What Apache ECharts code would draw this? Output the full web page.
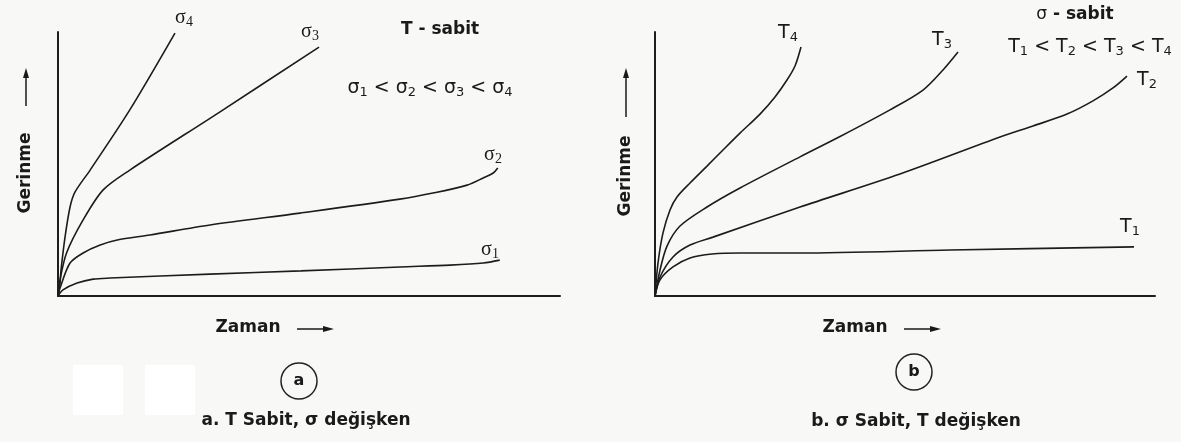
<!DOCTYPE html>
<html>
<head>
<meta charset="utf-8">
<script src="https://cdn.jsdelivr.net/npm/echarts@6/dist/echarts.min.js"></script>
<style>
html,body{margin:0;padding:0;background:#f8f8f6;}
#c{width:1181px;height:442px;}
</style>
</head>
<body>
<div id="c"></div>
<script>
// Panel a: T constant, sigma varies  (x: time 0-100, y: strain 0-100)
const sigma1 = [[0,0],[1.0,2.3],[3.8,4.9],[7.0,6.4],[10.4,6.8],[30.3,8.3],[48.4,9.5],[68.1,11.0],[78.1,11.7],[84.7,12.5],[88.0,13.6]];
const sigma2 = [[0,0],[0.4,3.0],[2.4,12.5],[5.0,16.3],[8.4,19.3],[11.8,21.2],[18.3,23.1],[30.3,26.9],[48.2,31.4],[68.1,36.7],[74.7,39.0],[81.5,42.0],[84.7,44.7],[86.7,46.6],[87.6,48.5]];
const sigma3 = [[0,0],[0.4,6.1],[1.7,16.3],[5.0,28.8],[9.0,40.2],[14.3,47.7],[31.9,69.3],[52.0,94.3]];
const sigma4 = [[0,0],[0.4,4.9],[0.6,9.8],[1.4,22.3],[2.4,33.7],[3.4,39.4],[6.4,47.7],[14.3,70.5],[23.3,99.6]];
// Panel b: sigma constant, T varies
const temp1 = [[0,0],[1.0,6.1],[3.6,11.0],[7.0,14.4],[11.4,15.9],[17.0,16.3],[29.0,16.3],[59.0,17.4],[95.8,18.6]];
const temp2 = [[0,0],[1.0,7.2],[3.6,14.8],[7.0,19.3],[11.6,22.3],[29.0,33.7],[49.0,46.2],[69.0,60.2],[75.6,64.4],[82.4,68.9],[87.6,73.9],[91.6,78.8],[94.4,83.3]];
const temp3 = [[0,0],[1.0,9.8],[2.4,18.9],[5.0,26.5],[10.4,33.7],[17.0,40.9],[29.0,52.7],[37.0,60.4],[47.0,70.5],[53.6,78.0],[57.6,85.6],[60.6,92.4]];
const temp4 = [[0,0],[0.6,12.5],[1.6,23.9],[3.0,32.6],[4.4,37.5],[7.0,42.8],[10.4,49.2],[13.6,55.3],[17.0,61.7],[21.0,68.9],[24.0,75.4],[26.4,81.8],[28.0,87.1],[29.2,94.3]];

const leftSeries = [sigma1, sigma2, sigma3, sigma4];
const rightSeries = [temp1, temp2, temp3, temp4];

const chart = echarts.init(document.getElementById('c'), null, {renderer:'canvas'});

function axis(idx){
  return {type:'value', gridIndex:idx, min:0, max:100,
    axisLine:{show:true, onZero:false, lineStyle:{color:'#1e1e1e', width:2}},
    axisTick:{show:false}, axisLabel:{show:false}, splitLine:{show:false}};
}
function lineSeries(data, idx){
  return {type:'line', xAxisIndex:idx, yAxisIndex:idx, data:data, showSymbol:false,
    smooth:0.3, silent:true,
    lineStyle:{color:'#1c1c1c', width:1.6}};
}
const series = [];
leftSeries.forEach(d=>series.push(lineSeries(d,0)));
rightSeries.forEach(d=>series.push(lineSeries(d,1)));

const SANS = '"DejaVu Sans", Verdana, sans-serif';
const SERIF = '"Liberation Serif", "DejaVu Serif", serif';
const TXT = '#1a1a1a';

function txt(x,y,text,opt){
  opt = opt||{};
  return {type:'text', x:x, y:y, rotation:opt.rotation||0, silent:true,
    style:Object.assign({text:text, fill:TXT, font:opt.font||('bold 17px '+SANS),
      align:'center', verticalAlign:'middle'}, opt.style||{})};
}
function subLabel(x,y,base,sub,family,size){
  return {type:'text', x:x, y:y, silent:true,
    style:{text:'{b|'+base+'}{s|'+sub+'}', align:'center', verticalAlign:'middle', fill:TXT,
      rich:{b:{fontFamily:family, fontSize:size, fill:TXT},
            s:{fontFamily:family, fontSize:Math.round(size*0.68), fill:TXT, padding:[9,0,0,0]}}}};
}
function relation(x,y,base,family,size){
  let t='';
  for(let i=1;i<=4;i++){
    t += '{b|'+base+'}{s|'+i+'}';
    if(i<4) t += '{b| < }';
  }
  const rich = {b:{fontFamily:family, fontSize:size, fill:TXT},
                s:{fontFamily:family, fontSize:Math.round(size*0.68), fill:TXT, padding:[9,0,0,0]}};
  return {type:'text', x:x, y:y, silent:true,
    style:{text:t, align:'center', verticalAlign:'middle', fill:TXT, rich:rich}};
}
function arrowUp(x, y1, y2){ // shaft from y1 (bottom) to tip y2
  return [
    {type:'line', silent:true, shape:{x1:x,y1:y1,x2:x,y2:y2+8}, style:{stroke:TXT, lineWidth:1.5}},
    {type:'polygon', silent:true, shape:{points:[[x,y2],[x-3,y2+10],[x+3,y2+10]]}, style:{fill:TXT}}
  ];
}
function arrowRight(y, x1, x2){
  return [
    {type:'line', silent:true, shape:{x1:x1,y1:y,x2:x2-8,y2:y}, style:{stroke:TXT, lineWidth:1.5}},
    {type:'polygon', silent:true, shape:{points:[[x2,y],[x2-11,y-3],[x2-11,y+3]]}, style:{fill:TXT}}
  ];
}

const graphic = [
  {type:'rect', silent:true, z:-10, shape:{x:73,y:365,width:50,height:50}, style:{fill:'#ffffff'}},
  {type:'rect', silent:true, z:-10, shape:{x:145,y:365,width:50,height:50}, style:{fill:'#ffffff'}},
  // panel a texts
  txt(26,173,'Gerinme',{rotation:Math.PI/2}),
  ...arrowUp(26,106,68),
  txt(248,328,'Zaman'),
  ...arrowRight(329,297,334),
  txt(440,30,'T - sabit'),
  relation(430,88,'σ',SANS,19),
  subLabel(184,18,'σ','4',SERIF,20),
  subLabel(310,32,'σ','3',SERIF,20),
  subLabel(493,155,'σ','2',SERIF,20),
  subLabel(490,250,'σ','1',SERIF,20),
  {type:'circle', silent:true, shape:{cx:299,cy:381,r:18}, style:{fill:'none', stroke:'#222', lineWidth:1.5}},
  txt(299,381,'a',{font:'bold 16px '+SANS}),
  txt(306,421,'a. T Sabit, σ değişken'),
  // panel b texts
  txt(626,176,'Gerinme',{rotation:Math.PI/2}),
  ...arrowUp(626,117,68),
  txt(855,328,'Zaman'),
  ...arrowRight(329,904,941),
  {type:'text', x:1075, y:15, silent:true,
    style:{text:'{n|σ}{b| - sabit}', align:'center', verticalAlign:'middle',
      rich:{n:{fontFamily:SANS, fontSize:17, fill:TXT}, b:{fontFamily:SANS, fontSize:17, fontWeight:'bold', fill:TXT}}}},
  relation(1090,47,'T',SANS,19),
  subLabel(788,33,'T','4',SANS,19),
  subLabel(942,40,'T','3',SANS,19),
  subLabel(1147,80,'T','2',SANS,19),
  subLabel(1130,227,'T','1',SANS,19),
  {type:'circle', silent:true, shape:{cx:914,cy:372,r:18}, style:{fill:'none', stroke:'#222', lineWidth:1.5}},
  txt(914,372,'b',{font:'bold 16px '+SANS}),
  txt(916,422,'b. σ Sabit, T değişken')
];

chart.setOption({
  backgroundColor:'#f8f8f6',
  animation:false,
  grid:[{left:58, top:32, width:502, height:264}, {left:655, top:32, width:500, height:264}],
  xAxis:[axis(0), axis(1)],
  yAxis:[axis(0), axis(1)],
  series:series,
  graphic:graphic
});
</script>
</body>
</html>
